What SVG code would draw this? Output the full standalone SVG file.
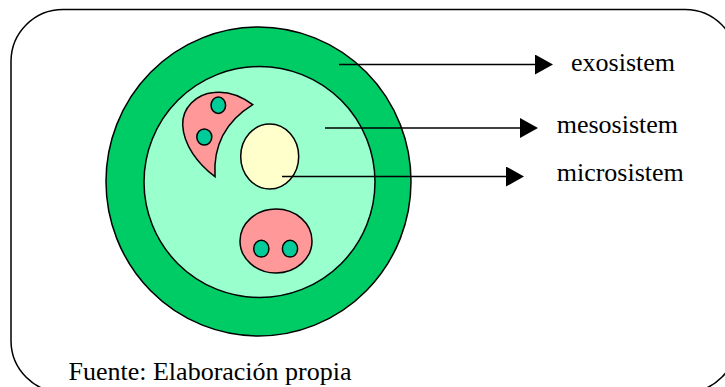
<svg xmlns="http://www.w3.org/2000/svg" width="725" height="387" viewBox="0 0 725 387">
<style>
.o{stroke:#000;stroke-width:1.5}
.t{font-family:"Liberation Serif","Times New Roman",serif;font-size:26px;fill:#000}
.c{stroke:#000;stroke-width:1.6;fill:none}
</style>
<defs>
<marker id="ah" markerWidth="18" markerHeight="20" refX="0" refY="10" orient="auto" markerUnits="userSpaceOnUse">
<path d="M0,0 L18,10 L0,20 Z" fill="#000"/>
</marker>
</defs>
<rect width="725" height="387" fill="#fff"/>
<rect id="frame" x="11" y="9.5" width="726" height="383" rx="52" ry="52" fill="#fff" stroke="#000" stroke-width="1.5"/>
<g id="exosistem-ring"><ellipse cx="258.5" cy="181.5" rx="152.5" ry="154.5" fill="#00CC66" class="o"/></g>
<g id="mesosistem-area"><ellipse cx="259.5" cy="182" rx="115.5" ry="115.5" fill="#99FFCC" class="o"/></g>
<g id="crescent">
<path d="M252.7,104.7 C240,95 228,91 214,92.5 C196,94 182,108 182.7,125 C183.5,145 198,164 215,176.7 Q212,130 252.7,104.7 Z" fill="#FF9999" class="o"/>
<ellipse cx="218.3" cy="105.3" rx="7.3" ry="8.2" fill="#00CC99" class="o"/>
<ellipse cx="204.3" cy="137" rx="7.5" ry="8" fill="#00CC99" class="o"/>
</g>
<g id="microsistem"><ellipse cx="269.7" cy="156.5" rx="29" ry="32.5" fill="#FFFFCC" class="o"/></g>
<g id="oval">
<ellipse cx="276" cy="241" rx="36" ry="32" fill="#FF9999" class="o"/>
<ellipse cx="261.3" cy="248.7" rx="7.6" ry="8.4" fill="#00CC99" class="o"/>
<ellipse cx="290" cy="248.7" rx="7.6" ry="8.4" fill="#00CC99" class="o"/>
</g>
<g id="connectors">
<line x1="339" y1="64.5" x2="535" y2="64.5" class="c" marker-end="url(#ah)"/>
<line x1="325" y1="128" x2="520" y2="128" class="c" marker-end="url(#ah)"/>
<line x1="282" y1="176.5" x2="506" y2="176.5" class="c" marker-end="url(#ah)"/>
</g>
<g id="labels">
<text class="t" x="571" y="70.7">exosistem</text>
<text class="t" x="556.7" y="133">mesosistem</text>
<text class="t" x="556.7" y="180.7">microsistem</text>
<text class="t" x="68.5" y="380">Fuente: Elaboración propia</text>
</g>
</svg>
